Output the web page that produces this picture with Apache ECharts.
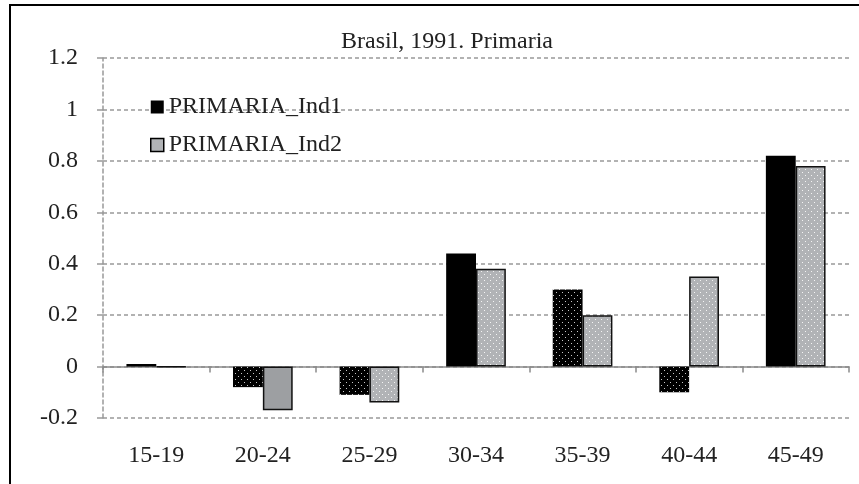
<!DOCTYPE html>
<html>
<head>
<meta charset="utf-8">
<script src="https://cdn.jsdelivr.net/npm/echarts@6/dist/echarts.min.js"></script>
<style>
  html, body { margin: 0; padding: 0; background: #fff; }
  #main { width: 859px; height: 484px; }
</style>
</head>
<body>
<div id="main"></div>
<script type="text/javascript">
    // 数据
    var categories = ['15-19', '20-24', '25-29', '30-34', '35-39', '40-44', '45-49'];
    var ind1 = [0.01, -0.08, -0.11, 0.44, 0.30, -0.10, 0.82];
    var ind2 = [-0.002, -0.17, -0.14, 0.38, 0.20, 0.35, 0.78];
    // 哪些柱子是实心的 (其余为点状填充)
    var ind1Solid = [true, false, false, true, false, false, true];
    var ind2Solid = [false, true, false, false, false, false, false];

    var serif = '"Liberation Serif", "DejaVu Serif", serif';
    var fs = 24;

    // 点状图案
    function dots(bg, dot) {
        var c = document.createElement('canvas');
        c.width = 6; c.height = 6;
        var ctx = c.getContext('2d');
        ctx.fillStyle = bg;
        ctx.fillRect(0, 0, 6, 6);
        ctx.fillStyle = dot;
        ctx.fillRect(1, 1, 1, 1);
        ctx.fillRect(4, 4, 1, 1);
        return { image: c, repeat: 'repeat' };
    }
    var blackDots = dots('#000', '#c8c8c8');
    var grayDots = dots('#b1b3b6', '#f4f4f4');

    var d1 = ind1.map(function (v, i) {
        return { value: v, itemStyle: { color: ind1Solid[i] ? '#000' : blackDots } };
    });
    var d2 = ind2.map(function (v, i) {
        return { value: v, itemStyle: { color: ind2Solid[i] ? '#9d9fa2' : grayDots } };
    });

    var myChart = echarts.init(document.getElementById('main'));
    myChart.setOption({
        animation: false,
        title: {
            text: 'Brasil, 1991. Primaria',
            left: 442,
            textAlign: 'center',
            top: 25,
            textStyle: { fontFamily: serif, fontSize: fs, fontWeight: 'normal', color: '#222' }
        },
        legend: {
            orient: 'vertical',
            left: 145,
            top: 90,
            itemWidth: 13,
            itemHeight: 13,
            itemGap: 14,
            icon: 'rect',
            textStyle: { fontFamily: serif, fontSize: fs, color: '#222' },
            data: [
                { name: 'PRIMARIA_Ind1', itemStyle: { color: '#000', borderWidth: 0 } },
                { name: 'PRIMARIA_Ind2', itemStyle: { color: '#b1b3b6', borderColor: '#000', borderWidth: 1.5 } }
            ]
        },
        graphic: [{
            type: 'rect',
            shape: { x: 10, y: 5, width: 880, height: 500 },
            style: { fill: 'none', stroke: '#000', lineWidth: 2 },
            silent: true
        }],
        grid: { left: 103, right: 10, top: 58, bottom: 66 },
        xAxis: [
            {
                type: 'category',
                data: categories,
                axisLine: { onZero: true, lineStyle: { color: '#8a8a8a', width: 1.5 } },
                axisTick: { show: true, length: 6, lineStyle: { color: '#8a8a8a', width: 1.5 } },
                axisLabel: { show: false }
            },
            {
                type: 'category',
                data: categories,
                position: 'bottom',
                axisLine: { show: false, onZero: false },
                axisTick: { show: false },
                axisLabel: { margin: 26, fontFamily: serif, fontSize: fs, color: '#222' }
            }
        ],
        yAxis: {
            type: 'value',
            min: -0.2,
            max: 1.2,
            interval: 0.2,
            axisLine: { show: true, lineStyle: { color: '#999', type: [4, 3], width: 1.5 } },
            axisTick: { show: true, length: 6, lineStyle: { color: '#999', width: 1.5 } },
            axisLabel: {
                margin: 25,
                fontFamily: serif, fontSize: fs, color: '#222',
                formatter: function (v) { return String(Math.round(v * 10) / 10); }
            },
            splitLine: { show: true, lineStyle: { color: '#999', type: [4, 3], width: 1.5 } }
        },
        series: [
            {
                name: 'PRIMARIA_Ind1',
                type: 'bar',
                xAxisIndex: 0,
                barGap: '0%',
                barCategoryGap: '44%',
                itemStyle: { color: '#000' },
                data: d1
            },
            {
                name: 'PRIMARIA_Ind2',
                type: 'bar',
                xAxisIndex: 0,
                itemStyle: { color: '#b1b3b6', borderColor: '#111', borderWidth: 1.5 },
                data: d2
            }
        ]
    });
</script>
</body>
</html>
